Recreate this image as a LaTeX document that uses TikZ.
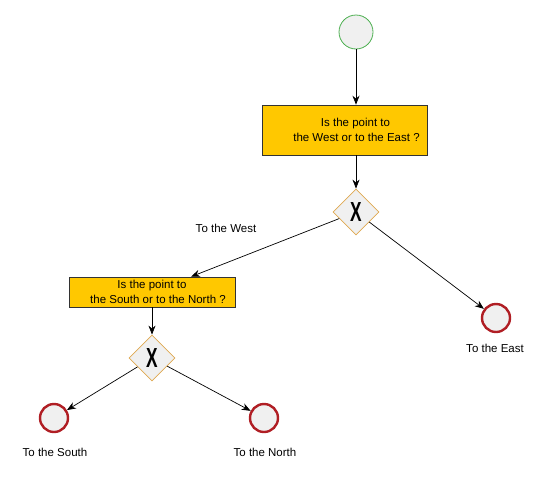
\documentclass[tikz,border=0pt]{standalone}
\usepackage{fontspec}
\setmainfont{Liberation Sans}
\usetikzlibrary{shapes.geometric,arrows.meta}
\definecolor{taskfill}{HTML}{FFC800}
\definecolor{gwborder}{HTML}{E0A850}
\definecolor{endred}{HTML}{B01E24}
\definecolor{startgreen}{HTML}{4CAF50}
\tikzset{
  startev/.style={circle,draw=startgreen,line width=0.8pt,fill=gray!12,minimum size=34pt,inner sep=0pt},
  endev/.style={circle,draw=endred,line width=2.4pt,fill=gray!12,minimum size=28pt,inner sep=0pt},
  task/.style={rectangle,draw=black!80,line width=0.6pt,fill=taskfill,align=center,font=\fontsize{11.5}{15}\selectfont,inner sep=0pt},
  gw/.style={diamond,draw=gwborder,line width=0.8pt,fill=gray!12,minimum size=46pt,inner sep=0pt,font=\fontsize{24}{24}\selectfont\bfseries},
  lbl/.style={font=\fontsize{11.5}{13}\selectfont,inner sep=1pt},
  flow/.style={draw=black,line width=0.7pt,-{Stealth[length=9pt,width=7pt]}}
}
\begin{document}
\begin{tikzpicture}[x=1pt,y=-1pt]
\useasboundingbox (0,0) rectangle (543,477);
\node[task,minimum width=165pt,minimum height=50pt] (t1) at (344.5,130) {\hspace*{22pt}Is the point to\\\hspace*{24pt}the West or to the East ?};
\node[startev] (s) at (356,32) {};
\node[gw] (g1) at (356,212) {\scalebox{0.72}[1.15]{X}};
\node[task,minimum width=166pt,minimum height=30pt] (t2) at (152,292) {Is the point to\\\hspace*{12pt}the South or to the North ?};
\node[gw] (g2) at (152,358) {\scalebox{0.72}[1.15]{X}};
\node[endev] (eE) at (496,318) {};
\node[endev] (eS) at (54,418) {};
\node[endev] (eN) at (264,418) {};
\node[lbl] (lE) at (495,348) {To the East};
\node[lbl] (lS) at (55,452) {To the South};
\node[lbl] (lN) at (265,452) {To the North};
\node[lbl] (lW) at (226,228) {To the West};
\draw[flow] (s) -- (s |- t1.north);
\draw[flow] (t1.south -| g1) -- (g1);
\draw[flow] (g1) -- (t2);
\draw[flow] (g1) -- (eE);
\draw[flow] (t2) -- (g2);
\draw[flow] (g2) -- (eS);
\draw[flow] (g2) -- (eN);
\end{tikzpicture}
\end{document}
